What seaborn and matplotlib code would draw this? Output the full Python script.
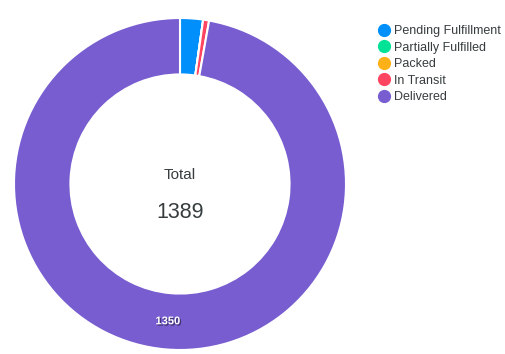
import matplotlib.pyplot as plt
import matplotlib.patheffects as pe
from matplotlib.lines import Line2D
import seaborn as sns
import numpy as np

# Donut de estados de pedidos

estados = ["Pending Fulfillment", "Partially Fulfilled", "Packed", "In Transit", "Delivered"]
cantidades = [31, 0, 0, 8, 1350]
colores = ["#008FFB", "#00E396", "#FEB019", "#FF4560", "#775DD0"]

sns.set_style("white")
plt.rcParams["font.family"] = ["Liberation Sans", "DejaVu Sans"]
paleta = sns.color_palette(colores)

fig = plt.figure(figsize=(5.06, 3.54), dpi=100)
ax = fig.add_axes([14 / 506, 4 / 354, 332 / 506, 332 / 354])

wedges, _ = ax.pie(cantidades, colors=paleta, startangle=90, counterclock=False,
                   radius=1, wedgeprops=dict(width=0.34, edgecolor="white", linewidth=1.5))
ax.set_xlim(-1, 1)
ax.set_ylim(-1, 1)
ax.set_aspect("equal")
ax.axis("off")

# etiqueta del segmento grande
total = sum(cantidades)
for w, v in zip(wedges, cantidades):
    if v / total > 0.1:
        ang = np.deg2rad((w.theta1 + w.theta2) / 2)
        r = 0.83
        ax.text(r * np.cos(ang), r * np.sin(ang), str(v), ha="center", va="center",
                color="white", fontsize=8, fontweight="bold",
                path_effects=[pe.withSimplePatchShadow(offset=(1, -1), shadow_rgbFace="black", alpha=0.45)])

ax.text(0, 0.055, "Total", ha="center", va="center", fontsize=11, color="#373d3f")
ax.text(0, -0.17, str(total), ha="center", va="center", fontsize=15.5, color="#373d3f")

handles = [Line2D([], [], marker="o", linestyle="", markersize=8.5, color=c) for c in colores]
fig.legend(handles, estados, loc="upper left", bbox_to_anchor=(372 / 506, 1 - 20 / 354),
           frameon=False, fontsize=9, handletextpad=0.15, labelspacing=0.36,
           handlelength=1.2, borderaxespad=0, labelcolor="#373d3f")

fig.savefig("out.png", dpi=100)
